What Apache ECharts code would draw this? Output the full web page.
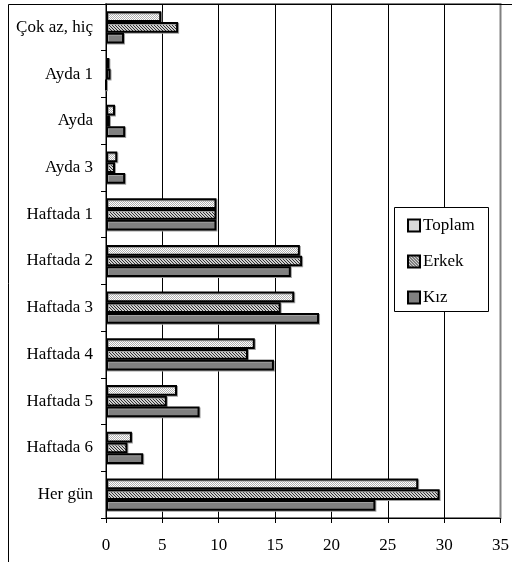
<!DOCTYPE html>
<html>
<head>
<meta charset="utf-8">
<script src="https://cdn.jsdelivr.net/npm/echarts@6/dist/echarts.min.js"></script>
<style>html,body{margin:0;padding:0;background:#fff}#c{width:512px;height:562px}</style>
</head>
<body>
<div id="c"></div>
<script>
const categories = ['Çok az, hiç','Ayda 1','Ayda','Ayda 3','Haftada 1','Haftada 2','Haftada 3','Haftada 4','Haftada 5','Haftada 6','Her gün'];
const toplam = [4.9, 0.3, 0.8, 1.0, 9.8, 17.2, 16.7, 13.2, 6.3, 2.3, 27.7];
const erkek  = [6.4, 0.4, 0.35, 0.8, 9.8, 17.4, 15.5, 12.6, 5.4, 1.9, 29.6];
const kiz    = [1.6, 0, 1.7, 1.7, 9.8, 16.4, 18.9, 14.9, 8.3, 3.3, 23.9];
const seriesNames = ['Toplam','Erkek','Kız'];
const xTicks = {min: 0, max: 35, interval: 5};

function makePattern(size, bg, fg, pts) {
  const c = document.createElement('canvas');
  c.width = size; c.height = size;
  const ctx = c.getContext('2d');
  ctx.fillStyle = bg; ctx.fillRect(0,0,size,size);
  ctx.fillStyle = fg;
  pts.forEach(p => ctx.fillRect(p[0], p[1], 1, 1));
  return {image: c, repeat: 'repeat'};
}
const patToplam = makePattern(2, '#ffffff', '#b0b0b0', [[0,0],[1,1]]);
const patErkek = makePattern(3, '#d0d0d0', '#303030', [[0,0],[1,1],[2,2]]);
const colKiz = '#808080';

const FONT = "'Liberation Serif','Times New Roman',serif";
const chart = echarts.init(document.getElementById('c'), null, {renderer: 'canvas'});
const barStyle = (color) => ({color: color, borderColor: '#000', borderWidth: 2,
  shadowColor: '#a0a0a0', shadowOffsetX: 1, shadowOffsetY: 1, shadowBlur: 0});

chart.setOption({
  animation: false,
  backgroundColor: '#fff',
  textStyle: {fontFamily: FONT, color: '#000'},
  grid: {left: 106, top: 4, right: 8, bottom: 44, show: true, borderColor: '#808080', borderWidth: 2, backgroundColor: 'transparent'},
  graphic: [
    {type: 'rect', shape: {x: 8.5, y: 4.5, width: 700, height: 700}, style: {fill: 'none', stroke: '#000', lineWidth: 1}, z: 1, silent: true},
    {type: 'rect', shape: {x: 394.5, y: 207.5, width: 94, height: 104}, style: {fill: '#fff', stroke: '#000', lineWidth: 1}, z: 10, silent: true}
  ],
  legend: {
    data: seriesNames, orient: 'vertical', left: 407, top: 217, itemGap: 19, padding: 0,
    icon: 'rect', itemWidth: 12, itemHeight: 12, z: 20,
    itemStyle: {borderColor: '#000', borderWidth: 2},
    textStyle: {fontFamily: FONT, fontSize: 17, color: '#000', padding: [0,0,0,-2]}
  },
  xAxis: {
    type: 'value', min: xTicks.min, max: xTicks.max, interval: xTicks.interval,
    axisLine: {show: true, lineStyle: {color: '#000', width: 1}},
    axisTick: {show: true, length: 5, lineStyle: {color: '#000'}},
    axisLabel: {fontFamily: FONT, fontSize: 17, color: '#000', margin: 19},
    splitLine: {show: true, showMaxLine: false, showMinLine: false, lineStyle: {color: '#000', width: 1}}
  },
  yAxis: {
    type: 'category', data: categories, inverse: true,
    axisLine: {show: true, lineStyle: {color: '#000', width: 1}},
    axisTick: {show: true, length: 5, lineStyle: {color: '#000'}},
    axisLabel: {fontFamily: FONT, fontSize: 17, color: '#000', margin: 13},
    splitLine: {show: false}
  },
  series: [
    {name: 'Toplam', type: 'bar', data: toplam, itemStyle: barStyle(patToplam), barGap: '0%', barCategoryGap: '31%'},
    {name: 'Erkek', type: 'bar', data: erkek, itemStyle: barStyle(patErkek), barGap: '0%', barCategoryGap: '31%'},
    {name: 'Kız', type: 'bar', data: kiz, itemStyle: barStyle(colKiz), barGap: '0%', barCategoryGap: '31%'}
  ]
});
</script>
</body>
</html>
